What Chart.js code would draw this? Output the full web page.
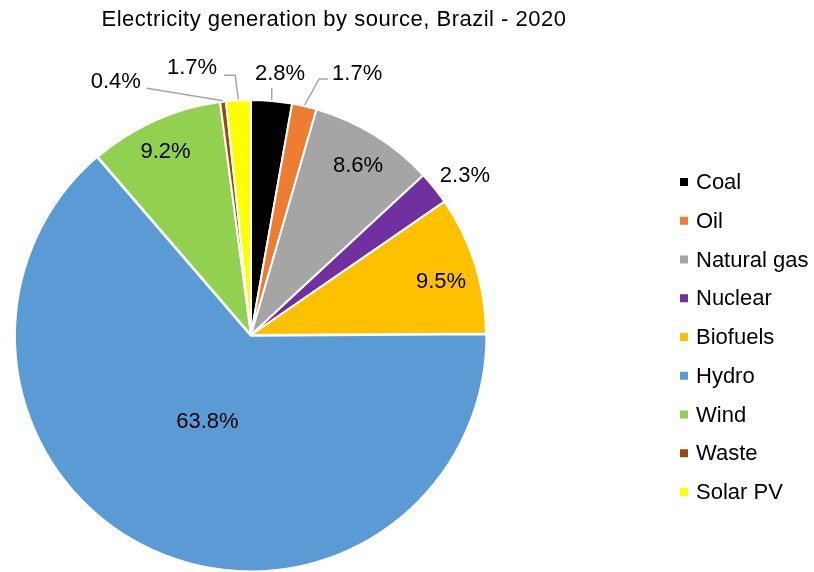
<!DOCTYPE html>
<html><head><meta charset="utf-8">
<script src="https://cdn.jsdelivr.net/npm/chart.js@4"></script>
<style>html,body{margin:0;padding:0;background:#fff;overflow:hidden}#wrap{width:814px;height:572px;position:relative}</style>
</head><body><div id="wrap"><canvas id="c" width="814" height="572"></canvas></div>
<script>
const categories = ['Coal','Oil','Natural gas','Nuclear','Biofuels','Hydro','Wind','Waste','Solar PV'];
const shares = [2.8,1.7,8.6,2.3,9.5,63.8,9.2,0.4,1.7];
const colors = ['#000000','#ED7D31','#A5A5A5','#7030A0','#FFC000','#5B9BD5','#92D050','#9E480E','#FFFF00'];
const explode = [0,0,0,0,0,3,0,0,0];
const titleText = 'Electricity generation by source, Brazil - 2020';

// label placement: radial factor + angle shift (deg) from the slice middle, leader style
const labelLayout = [
  {rf:1.117, da:1.3,  leader:'up'},
  {rf:1.199, da:9.0,  leader:'elbowLeft'},
  {rf:0.85,  da:0.7,  leader:null},
  {rf:1.134, da:2.1,  leader:null},
  {rf:0.84,  da:1.8,  leader:null},
  {rf:0.40,  da:2.3,  leader:null},
  {rf:0.86,  da:-0.9, leader:null},
  {rf:1.22,  da:-21.3,leader:'straightRight'},
  {rf:1.163, da:-9.4, leader:'elbowRight'}
];
const FONT = '22px "Liberation Sans", Arial, sans-serif';

const overlay = {
  id:'overlay',
  afterDatasetsDraw(chart){
    const ctx = chart.ctx;
    const meta = chart.getDatasetMeta(0);
    ctx.save();
    ctx.font = FONT;
    ctx.textBaseline = 'middle';
    ctx.textAlign = 'center';
    meta.data.forEach((arc, i) => {
      const p = arc.getProps(['x','y','startAngle','endAngle','outerRadius']);
      const mid = (p.startAngle + p.endAngle)/2;
      const off = explode[i];
      const cx = p.x + Math.cos(mid)*off, cy = p.y + Math.sin(mid)*off;
      const L = labelLayout[i];
      const a = mid + L.da*Math.PI/180;
      const tx = cx + Math.cos(a)*p.outerRadius*L.rf;
      const ty = cy + Math.sin(a)*p.outerRadius*L.rf;
      const txt = shares[i].toFixed(1) + '%';
      const w = ctx.measureText(txt).width;
      if (L.leader){
        const sx = cx + Math.cos(mid)*(p.outerRadius+1);
        const sy = cy + Math.sin(mid)*(p.outerRadius+1);
        let pts;
        if (L.leader==='up') pts = [[sx,sy],[sx,ty+14]];
        else if (L.leader==='elbowLeft') pts = [[sx,sy],[tx-w/2-13,ty+5],[tx-w/2-4,ty+5]];
        else if (L.leader==='elbowRight') pts = [[sx,sy],[tx+w/2+18,ty+7],[tx+w/2+7,ty+7]];
        else pts = [[sx,sy],[tx+w/2+6,ty+6]];
        ctx.strokeStyle = '#A6A6A6';
        ctx.lineWidth = 1.5;
        ctx.beginPath();
        pts.forEach((q,k)=> k?ctx.lineTo(q[0],q[1]):ctx.moveTo(q[0],q[1]));
        ctx.stroke();
      }
      ctx.fillStyle = '#000';
      ctx.fillText(txt, tx, ty);
    });
    // title
    ctx.font = '22px "Liberation Sans", Arial, sans-serif';
    if ('letterSpacing' in ctx) ctx.letterSpacing = '0.5px';
    ctx.fillText(titleText, 334, 20);
    if ('letterSpacing' in ctx) ctx.letterSpacing = '0px';
    // legend
    ctx.font = FONT;
    ctx.textAlign = 'left';
    categories.forEach((c,i)=>{
      const y = 182 + i*38.75;
      ctx.fillStyle = colors[i];
      ctx.fillRect(680, y-4, 8, 8);
      ctx.fillStyle = '#000';
      ctx.fillText(c, 696, y+1);
    });
    ctx.restore();
  }
};

new Chart(document.getElementById('c'), {
  type:'pie',
  data:{labels:categories, datasets:[{
    data:shares, backgroundColor:colors, borderColor:'#fff', borderWidth:2,
    offset:explode, radius:235, clip:false
  }]},
  options:{
    responsive:false, devicePixelRatio:1, animation:false,
    layout:{padding:{left:0,right:312,top:98,bottom:0}},
    plugins:{legend:{display:false}, tooltip:{enabled:false}, title:{display:false}}
  },
  plugins:[overlay]
});
</script></body></html>
